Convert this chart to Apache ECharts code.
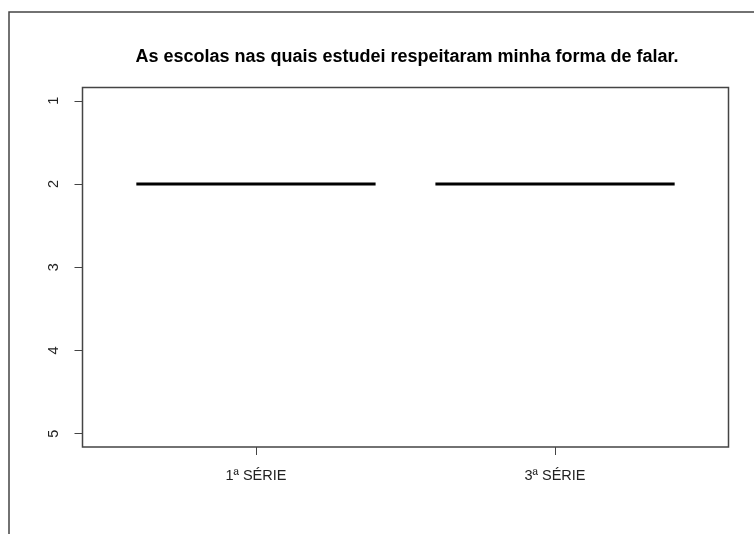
<!DOCTYPE html>
<html>
<head>
<meta charset="utf-8">
<script src="https://cdn.jsdelivr.net/npm/echarts@6/dist/echarts.min.js"></script>
<style>
  html, body { margin: 0; padding: 0; background: #fff; }
  #chart { width: 754px; height: 534px; }
</style>
</head>
<body>
<div id="chart"></div>
<script>
// boxplot stats per group: [min, q1, median, q3, max]
const categories = ['1ª SÉRIE', '3ª SÉRIE']
const positions = [1, 2]
const boxStats = [
  [2, 2, 2, 2, 2],
  [2, 2, 2, 2, 2]
]
const yTicks = [1, 2, 3, 4, 5]
const title = 'As escolas nas quais estudei respeitaram minha forma de falar.'

const FONT = 'Liberation Sans, Arial, sans-serif'
const BOX_WIDTH = 0.8

const seriesData = boxStats.map((s, i) => [positions[i], ...s])

const renderBox = (params, api) => {
  const x = api.value(0)
  const lo = api.value(1), q1 = api.value(2), med = api.value(3), q3 = api.value(4), hi = api.value(5)
  const left = api.coord([x - BOX_WIDTH / 2, med])[0]
  const right = api.coord([x + BOX_WIDTH / 2, med])[0]
  const cx = api.coord([x, med])[0]
  const yq1 = api.coord([x, q1])[1]
  const yq3 = api.coord([x, q3])[1]
  const ymed = api.coord([x, med])[1]
  const ylo = api.coord([x, lo])[1]
  const yhi = api.coord([x, hi])[1]
  const thin = { stroke: '#000', lineWidth: 1, fill: 'none' }
  const children = []
  if (q3 !== q1) {
    children.push({ type: 'rect', shape: { x: left, y: Math.min(yq1, yq3), width: right - left, height: Math.abs(yq1 - yq3) }, style: thin })
  }
  if (hi !== q3 || lo !== q1) {
    children.push({ type: 'line', shape: { x1: cx, y1: yq3, x2: cx, y2: yhi }, style: { stroke: '#000', lineDash: [4, 4] } })
    children.push({ type: 'line', shape: { x1: cx, y1: yq1, x2: cx, y2: ylo }, style: { stroke: '#000', lineDash: [4, 4] } })
  }
  children.push({ type: 'line', shape: { x1: left, y1: ymed, x2: right, y2: ymed }, style: { stroke: '#000', lineWidth: 3 } })
  return { type: 'group', children }
}

const chart = echarts.init(document.getElementById('chart'), null, { renderer: 'canvas' })
chart.setOption({
  animation: false,
  backgroundColor: '#fff',
  title: {
    text: title,
    left: 402,
    textAlign: 'center',
    top: 43,
    textStyle: { fontFamily: FONT, fontSize: 18, fontWeight: 'bold', color: '#000' }
  },
  graphic: [{
    type: 'rect',
    shape: { x: 9, y: 12, width: 800, height: 600 },
    style: { fill: 'none', stroke: '#444', lineWidth: 1.5 },
    silent: true
  }],
  grid: {
    left: 82.5,
    top: 87.5,
    right: 25.5,
    bottom: 87,
    show: true,
    borderColor: '#444',
    borderWidth: 1.5,
    backgroundColor: 'transparent'
  },
  xAxis: {
    type: 'value',
    min: 0.42,
    max: 2.58,
    splitLine: { show: false },
    axisLine: { show: false },
    axisTick: { show: true, length: 8, customValues: positions, lineStyle: { color: '#444' } },
    axisLabel: {
      customValues: positions,
      margin: 21,
      fontFamily: FONT,
      fontSize: 14.5,
      color: '#222',
      formatter: (v) => categories[positions.indexOf(v)] || ''
    }
  },
  yAxis: {
    type: 'value',
    inverse: true,
    min: 0.84,
    max: 5.16,
    splitLine: { show: false },
    axisLine: { show: false },
    axisTick: { show: true, length: 8, customValues: yTicks, lineStyle: { color: '#444' } },
    axisLabel: {
      customValues: yTicks,
      rotate: 90,
      margin: 21,
      fontFamily: FONT,
      fontSize: 14.5,
      color: '#222'
    }
  },
  series: [{
    type: 'custom',
    renderItem: renderBox,
    encode: { x: 0, y: [1, 2, 3, 4, 5] },
    data: seriesData
  }]
})
</script>
</body>
</html>
